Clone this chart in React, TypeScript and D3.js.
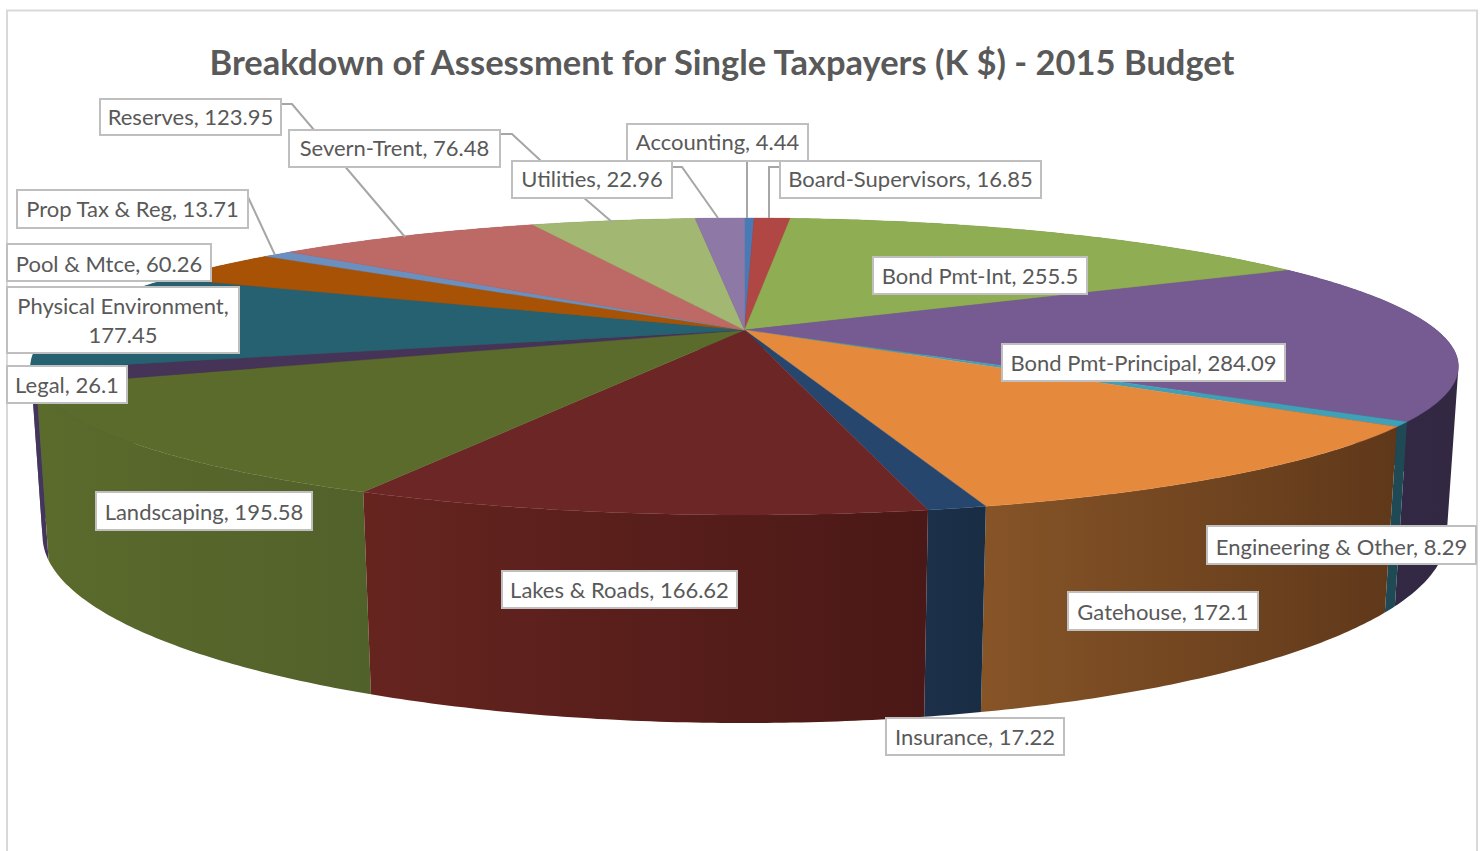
import React from "react";
import * as d3 from "d3";

const title = "Breakdown of Assessment for Single Taxpayers (K $) - 2015 Budget";
const categories = ["Accounting","Board-Supervisors","Bond Pmt-Int","Bond Pmt-Principal","Engineering & Other","Gatehouse","Insurance","Lakes & Roads","Landscaping","Legal","Physical Environment","Pool & Mtce","Prop Tax & Reg","Reserves","Severn-Trent","Utilities"];
const values = [4.44,16.85,255.5,284.09,8.29,172.1,17.22,166.62,195.58,26.1,177.45,60.26,13.71,123.95,76.48,22.96];
const topColors = ["#4a7ab5","#b04745","#8fad52","#765b92","#3fa0b8","#e58a3c","#27466e","#6c2626","#5b6b2c","#463358","#256170","#a85205","#6b90c0","#bd6966","#a2b872","#8e78a6"];
const sideLeft = ["#2f4f75","#702d2c","#5c7034","#362a48","#1f4a55","#865427","#1c3049","#66241f","#5b6b2c","#46345c","#256170","#6c3503","#44607e","#7a4341","#687648","#5b4d6b"];
const sideRight = ["#2f4f75","#702d2c","#5c7034","#322842","#1f4a55","#5f381a","#182c44","#4a1816","#51612a","#46345c","#256170","#6c3503","#44607e","#7a4341","#687648","#5b4d6b"];

// label layout: [category index, left, top, right, bottom, text nudge]
const labelBoxes: number[][] = [
  [0,627,124,808,161,-1],[13,100,99,281,135,0],[14,289,130,500,167,-1],[15,512,161,672,198,-1],[1,780,161,1041,198,-1],
  [12,17,190,248,228,0],[11,7,244,211,281,1.5],[10,7,287,239,353,0],[9,7,366,127,403,0],[8,96,492,312,530,1],
  [7,502,571,737,608,0],[2,873,257,1087,294,0],[3,1002,344,1285,381,0],[4,1207,526,1476,564,1.5],[5,1068,592,1258,630,1],[6,886,718,1064,755,0],
];
// leader polylines, each ends on its slice's rim
const leaders: [number, number][][] = [
  [[747,161],[747,218]],
  [[780,167],[769,167],[769,218]],
  [[672,167],[682,167],[718,218]],
  [[500,134],[512,134],[540,160],[612,222]],
  [[281,104],[292,104],[405,237]],
  [[248,197],[275,255]],
];

const CX = 744.5, CY = 330, K = 0.2458, A = 139.5, B = 692, H = 163.2, M = 0.016;
const depth = d3.scaleLinear().domain([0, 1]).range([0, 1]);
function project(theta: number, z: number): [number, number] {
  const u = Math.sin(theta), v = -Math.cos(theta);
  const d = 1 - K * v + M * depth(z);
  return [CX + (B * u) / d, CY + (A * v + H * depth(z)) / d];
}
function angles(a0: number, a1: number) {
  const n = Math.max(2, Math.ceil((a1 - a0) / 0.01));
  return d3.range(n + 1).map((i) => a0 + ((a1 - a0) * i) / n);
}
function arcPoints(a0: number, a1: number, z: number) {
  return angles(a0, a1).map((t) => project(t, z));
}
const line = d3.line();
// side wall: union of thin quads, all wound the same way so silhouettes fill solid
function wallPath(a0: number, a1: number) {
  const ts = angles(a0, a1);
  return d3.pairs(ts).map(([t0, t1]) => {
    const q = [project(t0, 0), project(t1, 0), project(t1, 1), project(t0, 1)] as [number, number][];
    return line(d3.polygonArea(q) < 0 ? q.reverse() : q) + "Z";
  }).join("");
}
const arcs = d3.pie<number>().sort(null).startAngle(0).endAngle(2 * Math.PI)(values);
const font = "Lato, 'Open Sans', sans-serif";
const textColor = "#595959";

export default function App() {
  const byDepth = [...arcs].sort((p, q) => {
    const mp = -Math.cos((p.startAngle + p.endAngle) / 2);
    const mq = -Math.cos((q.startAngle + q.endAngle) / 2);
    return mp - mq;
  });
  return (
    <svg width={1484} height={851} style={{ position: "absolute", left: 0, top: 0, background: "#fff" }}>
      <defs>
        {arcs.map((a) => {
          const xs = [...arcPoints(a.startAngle, a.endAngle, 0), ...arcPoints(a.startAngle, a.endAngle, 1)].map((p) => p[0]);
          return (
            <linearGradient key={a.index} id={`side${a.index}`} gradientUnits="userSpaceOnUse" x1={d3.min(xs)} x2={d3.max(xs)} y1={0} y2={0}>
              <stop offset="0" stopColor={sideLeft[a.index]} />
              <stop offset="1" stopColor={sideRight[a.index]} />
            </linearGradient>
          );
        })}
      </defs>
      <path d="M7 851V10.5H1477V851" fill="none" stroke="#d9d9d9" strokeWidth={2} />
      <text x={722} y={75} textAnchor="middle" fontFamily={font} fontWeight={700} fontSize={34.5} fill={textColor}>{title}</text>
      {byDepth.map((a) => (
        <path key={a.index} d={wallPath(a.startAngle, a.endAngle)} fill={`url(#side${a.index})`} fillRule="nonzero" />
      ))}
      {arcs.map((a) => {
        const pts = arcPoints(a.startAngle, a.endAngle, 0);
        return <path key={a.index} d={line([[CX, CY], ...pts])! + "Z"} fill={topColors[a.index]} stroke={topColors[a.index]} strokeWidth={0.4} />;
      })}
      {leaders.map((l, i) => (
        <path key={i} d={line(l)!} fill="none" stroke="#a6a6a6" strokeWidth={2} />
      ))}
      {labelBoxes.map(([idx, x0, y0, x1, y1, nudge]) => {
        const mid = (x0 + x1) / 2;
        const name = categories[idx];
        const txt = `${name}, ${values[idx]}`;
        const two = name === "Physical Environment";
        return (
          <g key={idx}>
            <rect x={x0} y={y0} width={x1 - x0} height={y1 - y0} fill="#fff" stroke="#bfbfbf" strokeWidth={2} />
            {two ? (
              <text textAnchor="middle" fontFamily={font} fontSize={22} fill={textColor}>
                <tspan x={mid} y={y0 + 27}>{name},</tspan>
                <tspan x={mid} y={y0 + 56}>{values[idx]}</tspan>
              </text>
            ) : (
              <text x={mid} y={(y0 + y1) / 2 + 8 + nudge} textAnchor="middle" fontFamily={font} fontSize={22} fill={textColor}>{txt}</text>
            )}
          </g>
        );
      })}
    </svg>
  );
}
